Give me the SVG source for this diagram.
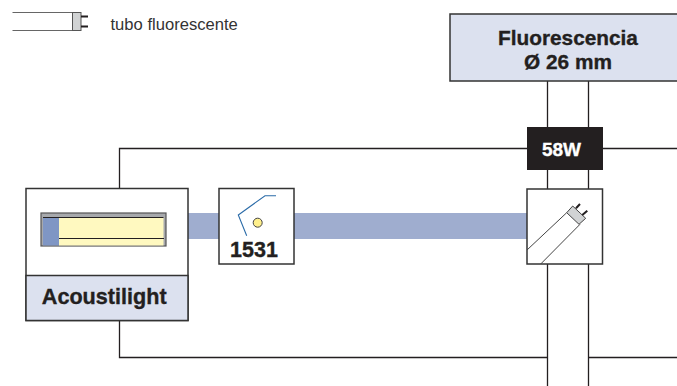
<svg xmlns="http://www.w3.org/2000/svg" width="677" height="386" viewBox="0 0 677 386">
<style>
text{font-family:"Liberation Sans",Arial,sans-serif;fill:#231f20}
.b{font-weight:bold;text-anchor:middle;stroke:#231f20;stroke-width:.35}
.l{fill:none;stroke:#231f20;stroke-width:1.3}
.box{fill:#fff;stroke:#333;stroke-width:1.5}
.lab{fill:#dce1ef;stroke:#333;stroke-width:1.5}
.t{stroke:#444;stroke-width:1}
</style>
<rect width="677" height="386" fill="#fff"/>
<g id="connectors">
<path class="l" d="M547.500 81V127M588.500 81V127M547.500 170V189M588.500 170V189M547.500 264V386M588.500 264V386"/>
<path class="l" d="M527 148.500H119.500V188M603 148.500H677M119.500 320V357.500H547.500M588.500 357.500H677"/>
<rect x="188" y="213" width="339" height="26" fill="#9fadcf"/>
</g>
<g id="legend">
<path d="M12.500 12.500H72M12.500 30.500H72" fill="none" stroke="#666" stroke-width="1.200"/>
<rect x="72.500" y="12.500" width="8.500" height="18" fill="#d1d3d4" stroke="#555" stroke-width="1"/>
<path d="M81 16.500H88M81 26.500H88" stroke="#231f20" stroke-width="2"/>
<text x="110.500" y="30" font-size="16.600" style="fill:#333">tubo fluorescente</text>
</g>
<g id="fluorescencia">
<rect class="lab" x="450" y="14" width="240" height="67"/>
<text class="b" x="568" y="45" font-size="20.800">Fluorescencia</text>
<text class="b" x="568" y="69" font-size="20.800">Ø 26 mm</text>
</g>
<g id="power">
<rect x="527" y="127" width="76" height="43" fill="#231f20"/>
<text class="b" x="561.500" y="155.500" font-size="19" style="fill:#fff;stroke:#fff">58W</text>
</g>
<g id="lamp">
<rect class="box" x="527" y="189" width="75.500" height="75"/>
<path class="t" d="M527 250L566.700 212.700M540.700 264L580 224.300"/>
<path d="M566.700 212.700L572.700 206L585.700 218.300L579 224.300Z" fill="#d1d3d4" stroke="#444" stroke-width="1"/>
<path d="M576 208.300L580 204M582.300 215L587.300 210.700" stroke="#231f20" stroke-width="2"/>
</g>
<g id="acoustilight">
<rect class="box" x="26" y="188.500" width="162" height="132"/>
<rect class="lab" x="26" y="275.500" width="162" height="45"/>
<rect x="41" y="213" width="125" height="33" fill="#a7a9ac" stroke="#555" stroke-width="1.200"/>
<rect x="59" y="217.500" width="104.500" height="28" fill="#fff9c0"/>
<rect x="43" y="217.500" width="16" height="28" fill="#7f96c4"/>
<path d="M43 217.500H163.500M59 238.500H164" stroke="#231f20" stroke-width="1"/>
<text class="b" x="104.200" y="304" font-size="21.600">Acoustilight</text>
</g>
<g id="sensor">
<rect class="box" x="219" y="188.500" width="75" height="75.500"/>
<path d="M276 195.700H265L238.300 215L246.700 235.700" fill="none" stroke="#2a6ba8" stroke-width="1.100"/>
<circle cx="257.700" cy="222.700" r="4.500" fill="#fff08c" stroke="#444" stroke-width="1"/>
<text class="b" x="254" y="256.700" font-size="21.500">1531</text>
</g>
</svg>
